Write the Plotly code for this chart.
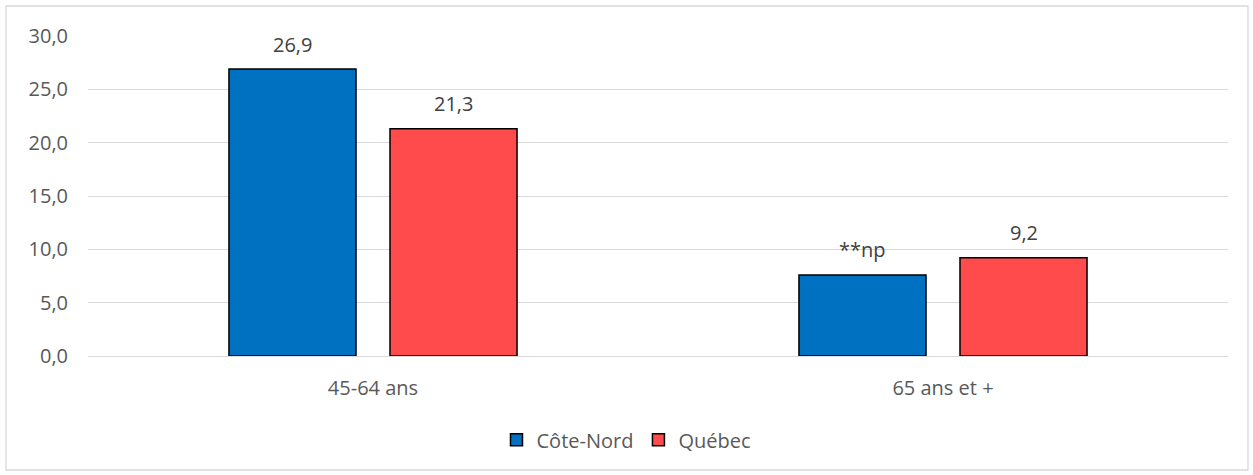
import plotly.graph_objects as go

categories = ["45-64 ans", "65 ans et +"]
cote_nord = [26.9, 7.6]
cote_nord_labels = ["26,9", "**np"]
quebec = [21.3, 9.2]
quebec_labels = ["21,3", "9,2"]
y_ticks = [0, 5, 10, 15, 20, 25, 30]
y_tick_labels = ["0,0", "5,0", "10,0", "15,0", "20,0", "25,0", "30,0"]

FONT = "Open Sans, Noto Sans, sans-serif"
W, H = 1253, 475
L, R, T, B = 88, 25, 36, 119
PLOT_W = W - L - R

BARGAP = 0.435
BARGROUPGAP = 0.211
# bar centre offset from category centre, in px, derived from the gap settings
slot_px = PLOT_W / len(categories) * (1 - BARGAP) / 2
offset_px = slot_px / 2

fig = go.Figure()
fig.add_trace(go.Bar(
    name="Côte-Nord", x=categories, y=cote_nord,
    marker=dict(color="#0070C0", line=dict(color="#000000", width=1.5)),
))
fig.add_trace(go.Bar(
    name="Québec", x=categories, y=quebec,
    marker=dict(color="#FF4B4B", line=dict(color="#000000", width=1.5)),
))

annotations = []
for vals, labels, sign in ((cote_nord, cote_nord_labels, -1), (quebec, quebec_labels, 1)):
    for cat, v, lab in zip(categories, vals, labels):
        annotations.append(dict(
            x=cat, y=v, xref="x", yref="y", text=lab, showarrow=False,
            xshift=sign * offset_px, yshift=25, yanchor="middle",
            font=dict(family=FONT, size=20, color="#404040"),
        ))

fig.update_layout(
    width=W, height=H,
    margin=dict(l=L, r=R, t=T, b=B),
    paper_bgcolor="white", plot_bgcolor="white",
    font=dict(family=FONT, size=20, color="#595959"),
    barmode="group", bargap=BARGAP, bargroupgap=BARGROUPGAP,
    showlegend=True,
    legend=dict(orientation="h", xref="container", x=0.5, xanchor="center",
                yref="container", y=0.074, yanchor="middle",
                font=dict(family=FONT, size=20, color="#595959"),
                itemwidth=30, traceorder="normal"),
    xaxis=dict(showgrid=False, showline=False, ticks="", ticklabelstandoff=18,
               tickfont=dict(family=FONT, size=20, color="#595959")),
    yaxis=dict(range=[0, 30], tickvals=y_ticks, ticktext=y_tick_labels,
               showgrid=True, gridcolor="#D9D9D9", gridwidth=1.3,
               zeroline=True, zerolinecolor="#D9D9D9", zerolinewidth=1.3,
               showline=False, ticks="", ticklabelstandoff=19,
               tickfont=dict(family=FONT, size=20, color="#595959")),
    annotations=annotations,
    shapes=[dict(type="rect", xref="paper", yref="paper",
                 x0=(6 - L) / PLOT_W, x1=(1248 - L) / PLOT_W,
                 y0=-(470 - (H - B)) / (H - B - T), y1=((H - B) - 6) / (H - B - T),
                 line=dict(color="#D9D9D9", width=1.3), fillcolor="rgba(0,0,0,0)",
                 layer="below")],
)

fig.write_html("out.html", config={"displayModeBar": False},
               post_script="document.body.style.margin='0px';")
